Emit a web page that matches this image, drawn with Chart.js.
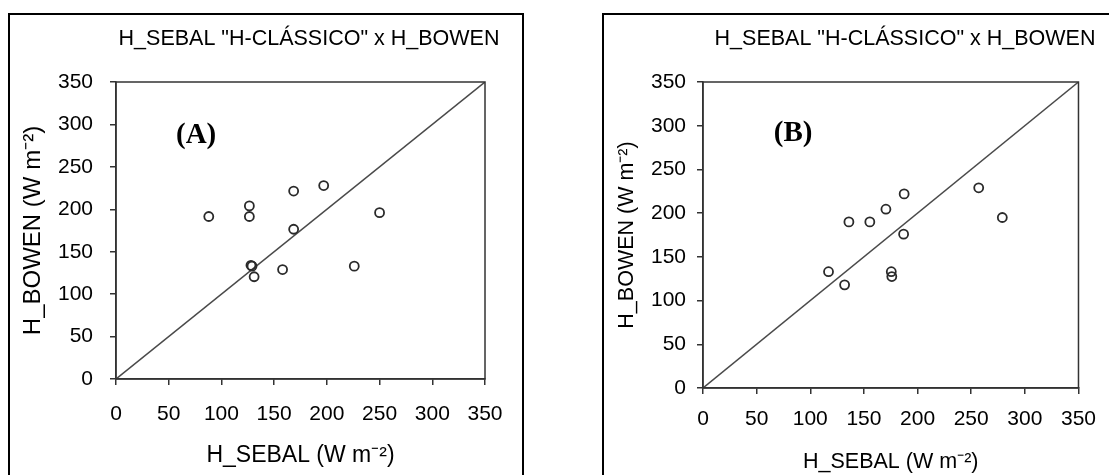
<!DOCTYPE html>
<html>
<head>
<meta charset="utf-8">
<script src="https://cdn.jsdelivr.net/npm/chart.js@4/dist/chart.umd.min.js"></script>
<style>
  html, body { margin: 0; padding: 0; background: #fff; }
  body { width: 1109px; height: 475px; position: relative; overflow: hidden; }
  .frame { position: absolute; border: 2px solid #000; box-sizing: border-box; }
  #frameA { left: 8px; top: 13px; width: 516px; height: 520px; }
  #frameB { left: 602px; top: 13px; width: 560px; height: 520px; }
  canvas { position: absolute; top: 0; }
  #chartA { left: 0; }
  #chartB { left: 560px; }
</style>
</head>
<body>
<div class="frame" id="frameA"></div>
<div class="frame" id="frameB"></div>
<canvas id="chartA" width="560" height="475"></canvas>
<canvas id="chartB" width="549" height="475"></canvas>
<script>
// panel (A) - H_SEBAL vs H_BOWEN, W m-2
const sebalA = [88, 126.5, 126.5, 168.5, 197, 168.5, 250, 128, 129, 131, 158, 226];
const bowenA = [191.5, 204, 191.5, 221.5, 228, 176.5, 196, 134, 133, 120.5, 129, 133];

// panel (B)
const sebalB = [117, 132, 136, 155.5, 170.5, 187.5, 187, 175.5, 176, 257, 279];
const bowenB = [133, 118, 190, 190, 204.5, 222, 176, 133, 127.5, 229, 195];

// 1:1 line
const lineX = [0, 350];
const lineY = [0, 350];

const tickValues = [0, 50, 100, 150, 200, 250, 300, 350];

const panelTitle = 'H_SEBAL "H-CLÁSSICO" x H_BOWEN';
const xTitle = 'H_SEBAL (W m⁻²)';
const yTitle = 'H_BOWEN (W m⁻²)';

const sans = '"Liberation Sans", Arial, sans-serif';

// plot box, panel title and (A)/(B) tag
const panelDecor = {
    id: 'panelDecor',
    afterDatasetsDraw(chart, args, opts) {
        const { ctx, chartArea: a, scales: { x, y } } = chart;
        ctx.save();
        ctx.strokeStyle = '#333';
        ctx.lineWidth = 1.5;
        ctx.strokeRect(a.left, a.top, a.right - a.left, a.bottom - a.top);
        ctx.fillStyle = '#000';
        ctx.textAlign = 'center';
        ctx.textBaseline = 'middle';
        ctx.font = '21.5px ' + sans;
        ctx.fillText(opts.title, opts.titleX, opts.titleY);
        ctx.font = 'bold 29px "Liberation Serif", "Times New Roman", serif';
        ctx.fillText(opts.tag, x.getPixelForValue(opts.tagX), y.getPixelForValue(opts.tagY));
        ctx.restore();
    }
};

function toPoints(xs, ys) {
    return xs.map((v, i) => ({ x: v, y: ys[i] }));
}

function makeChart(id, xs, ys, p) {
    const tickFont = { family: sans, size: 21 };
    new Chart(document.getElementById(id), {
        type: 'scatter',
        data: {
            datasets: [{
                data: toPoints(xs, ys),
                pointStyle: 'circle',
                pointRadius: 4.5,
                borderColor: '#2a2a2a',
                borderWidth: 1.8,
                backgroundColor: 'rgba(0,0,0,0)'
            }, {
                data: toPoints(lineX, lineY),
                showLine: true,
                pointRadius: 0,
                borderColor: '#4a4a4a',
                borderWidth: 1.5
            }]
        },
        options: {
            responsive: false,
            animation: false,
            devicePixelRatio: 1,
            layout: { padding: { top: 82, right: p.padRight, bottom: 0, left: 0 } },
            scales: {
                x: {
                    type: 'linear', min: 0, max: 350,
                    afterBuildTicks: s => { s.ticks = tickValues.map(v => ({ value: v })); },
                    afterFit: s => { s.height = p.xHeight; },
                    grid: { drawOnChartArea: false, drawTicks: true, tickLength: 6, color: '#333', lineWidth: 1.5 },
                    border: { color: '#333', width: 1.5 },
                    ticks: { color: '#000', font: tickFont, padding: p.xTickPad, maxRotation: 0, autoSkip: false },
                    title: { display: true, text: xTitle, color: '#000',
                             font: { family: sans, size: p.xTitleSize }, padding: { top: 0, bottom: p.xTitlePad } }
                },
                y: {
                    type: 'linear', min: 0, max: 350,
                    afterBuildTicks: s => { s.ticks = tickValues.map(v => ({ value: v })); },
                    afterFit: s => { s.width = p.yWidth; },
                    grid: { drawOnChartArea: false, drawTicks: true, tickLength: 6, color: '#333', lineWidth: 1.5 },
                    border: { color: '#333', width: 1.5 },
                    ticks: { color: '#000', font: tickFont, padding: p.yTickPad, autoSkip: false },
                    title: { display: true, text: yTitle, color: '#000',
                             font: { family: sans, size: p.yTitleSize }, padding: { top: p.yTitlePad, bottom: 0 } }
                }
            },
            plugins: {
                legend: { display: false },
                tooltip: { enabled: false },
                panelDecor: { title: panelTitle, titleX: p.titleX, titleY: 39, tag: p.tag, tagX: p.tagX, tagY: p.tagY }
            }
        },
        plugins: [panelDecor]
    });
}

makeChart('chartA', sebalA, bowenA, {
    padRight: 75, xHeight: 96, yWidth: 116,
    xTickPad: 17, yTickPad: 17,
    xTitleSize: 23, xTitlePad: 6, yTitleSize: 24, yTitlePad: 19,
    titleX: 309, tag: '(A)', tagX: 76, tagY: 287
});

makeChart('chartB', sebalB, bowenB, {
    padRight: 26, xHeight: 87, yWidth: 143,
    xTickPad: 13, yTickPad: 11,
    xTitleSize: 21.5, xTitlePad: 0, yTitleSize: 21.5, yTitlePad: 54,
    titleX: 345, tag: '(B)', tagX: 84, tagY: 291
});
</script>
</body>
</html>
